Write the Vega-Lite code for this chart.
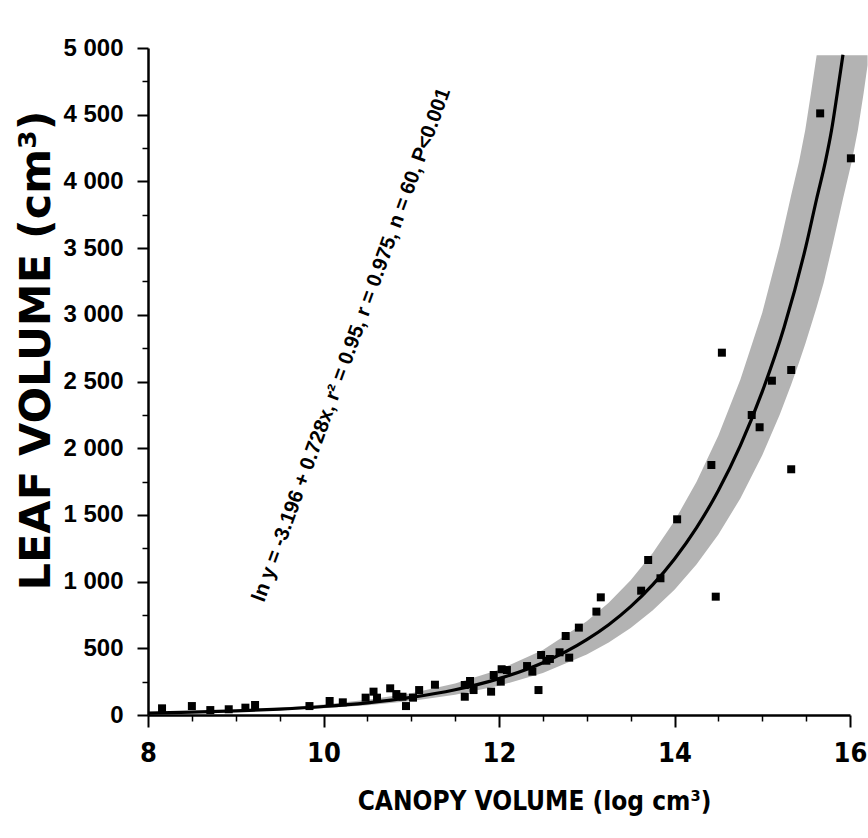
{
  "$schema": "https://vega.github.io/schema/vega-lite/v6.json",
  "width": 702,
  "height": 667,
  "autosize": {"type": "none"},
  "padding": {"left": 148, "top": 48, "right": 18, "bottom": 123},
  "background": "white",
  "config": {
    "view": {"stroke": null},
    "axis": {"grid": false, "domainColor": "#000", "tickColor": "#000", "labelColor": "#000", "titleColor": "#000"}
  },
  "datasets": {
    "points": [
      {"x": 8.16, "y": 50}, {"x": 8.50, "y": 67}, {"x": 8.71, "y": 37}, {"x": 8.92, "y": 43},
      {"x": 9.11, "y": 55}, {"x": 9.22, "y": 75}, {"x": 9.84, "y": 67}, {"x": 10.07, "y": 105},
      {"x": 10.22, "y": 95}, {"x": 10.48, "y": 130}, {"x": 10.57, "y": 175}, {"x": 10.61, "y": 130},
      {"x": 10.76, "y": 200}, {"x": 10.83, "y": 157}, {"x": 10.90, "y": 137}, {"x": 10.94, "y": 67},
      {"x": 11.02, "y": 130}, {"x": 11.09, "y": 187}, {"x": 11.27, "y": 227}, {"x": 11.61, "y": 225},
      {"x": 11.61, "y": 137}, {"x": 11.67, "y": 255}, {"x": 11.71, "y": 187},
      {"x": 11.91, "y": 175}, {"x": 11.94, "y": 300}, {"x": 12.03, "y": 343}, {"x": 12.09, "y": 337},
      {"x": 12.02, "y": 250}, {"x": 12.32, "y": 367}, {"x": 12.38, "y": 325}, {"x": 12.45, "y": 187},
      {"x": 12.48, "y": 450}, {"x": 12.54, "y": 407}, {"x": 12.58, "y": 420}, {"x": 12.69, "y": 470},
      {"x": 12.80, "y": 430}, {"x": 12.76, "y": 592}, {"x": 12.91, "y": 655}, {"x": 13.11, "y": 775},
      {"x": 13.16, "y": 882}, {"x": 13.62, "y": 932}, {"x": 13.70, "y": 1162}, {"x": 13.84, "y": 1025},
      {"x": 14.03, "y": 1467}, {"x": 14.47, "y": 887},
      {"x": 15.66, "y": 4510}, {"x": 16.01, "y": 4173}, {"x": 14.54, "y": 2716}, {"x": 15.33, "y": 2586},
      {"x": 15.11, "y": 2506}, {"x": 14.88, "y": 2249}, {"x": 14.97, "y": 2157}, {"x": 14.42, "y": 1874},
      {"x": 15.33, "y": 1842}
    ],
    "curve": [
      {"x": 8.0, "fit": 14.8}, {"x": 8.5, "fit": 21.3}, {"x": 9.0, "fit": 30.7}, {"x": 9.5, "fit": 44.2},
      {"x": 10.0, "fit": 63.6}, {"x": 10.5, "fit": 91.5}, {"x": 11.0, "fit": 131.6}, {"x": 11.5, "fit": 189.4},
      {"x": 12.0, "fit": 272.5}, {"x": 12.5, "fit": 392}, {"x": 13.0, "fit": 565}, {"x": 13.25, "fit": 677},
      {"x": 13.5, "fit": 812}, {"x": 13.75, "fit": 975}, {"x": 14.0, "fit": 1170}, {"x": 14.25, "fit": 1403},
      {"x": 14.5, "fit": 1683}, {"x": 14.75, "fit": 2019}, {"x": 15.0, "fit": 2424}, {"x": 15.25, "fit": 2908},
      {"x": 15.5, "fit": 3520}, {"x": 15.62, "fit": 3870}, {"x": 15.72, "fit": 4150}, {"x": 15.79, "fit": 4385},
      {"x": 15.855, "fit": 4661}, {"x": 15.92, "fit": 4950}
    ],
    "band": [
      {"x": 9.0, "lo": 24.7, "hi": 38.2}, {"x": 9.5, "lo": 35.5, "hi": 55.0}, {"x": 10.0, "lo": 51.1, "hi": 79.1},
      {"x": 10.5, "lo": 73.5, "hi": 113.8}, {"x": 11.0, "lo": 105.8, "hi": 163.8}, {"x": 11.5, "lo": 152.3, "hi": 235.7},
      {"x": 12.0, "lo": 219.1, "hi": 339.1}, {"x": 12.5, "lo": 315.3, "hi": 487.9}, {"x": 13.0, "lo": 453.6, "hi": 702.0},
      {"x": 13.25, "lo": 544.3, "hi": 842.2}, {"x": 13.5, "lo": 652.8, "hi": 1010.6}, {"x": 13.75, "lo": 783.3, "hi": 1212.6},
      {"x": 14.0, "lo": 939.7, "hi": 1455}, {"x": 14.25, "lo": 1127.6, "hi": 1745.7}, {"x": 14.5, "lo": 1352.7, "hi": 2094.6},
      {"x": 14.75, "lo": 1623.1, "hi": 2513}, {"x": 15.0, "lo": 1947.4, "hi": 3015}, {"x": 15.2, "lo": 2252.7, "hi": 3520},
      {"x": 15.33, "lo": 2476.6, "hi": 3898}, {"x": 15.42, "lo": 2644.5, "hi": 4150}, {"x": 15.49, "lo": 2782, "hi": 4385},
      {"x": 15.555, "lo": 2918, "hi": 4661}, {"x": 15.62, "lo": 3057, "hi": 4945}, {"x": 15.7, "lo": 3241, "hi": 4945},
      {"x": 15.8, "lo": 3520, "hi": 4945}, {"x": 15.92, "lo": 3870, "hi": 4945}, {"x": 16.02, "lo": 4150, "hi": 4945},
      {"x": 16.09, "lo": 4385, "hi": 4945}, {"x": 16.155, "lo": 4661, "hi": 4945}, {"x": 16.2, "lo": 4870, "hi": 4945}
    ],
    "note": [
      {"x": 10.32, "y": 2774, "label": "ln y = -3.196 + 0.728x, r² = 0.95, r = 0.975, n = 60, P<0.001"}
    ]
  },
  "layer": [
    {
      "data": {"name": "band"},
      "mark": {"type": "area", "color": "#b3b3b3", "opacity": 1, "clip": false},
      "encoding": {
        "x": {
          "field": "x", "type": "quantitative",
          "scale": {"domain": [8, 16], "nice": false, "zero": false},
          "axis": {
            "values": [8, 10, 12, 14, 16], "format": "d",
            "tickSize": 12, "tickWidth": 2, "domainWidth": 2.5,
            "labelFont": "Liberation Sans Narrow, DejaVu Sans Condensed, Liberation Sans, sans-serif",
            "labelFontSize": 27, "labelFontWeight": "bold", "labelPadding": 13,
            "labelFlush": false, "labelOverlap": false,
            "title": "CANOPY VOLUME (log cm³)",
            "titleFont": "Liberation Sans Narrow, DejaVu Sans Condensed, Liberation Sans, sans-serif",
            "titleFontSize": 26, "titleFontWeight": "bold",
            "titleX": 386, "titleY": 86, "titleAlign": "center", "titleBaseline": "middle"
          }
        },
        "y": {
          "field": "lo", "type": "quantitative",
          "scale": {"domain": [0, 5000], "nice": false},
          "axis": {
            "values": [0, 500, 1000, 1500, 2000, 2500, 3000, 3500, 4000, 4500, 5000],
            "labelExpr": "replace(format(datum.value, ','), ',', ' ')",
            "tickSize": 11, "tickWidth": 2, "domainWidth": 2.5,
            "labelFont": "Liberation Sans", "labelFontSize": 24, "labelFontWeight": "bold",
            "labelPadding": 14, "labelFlush": false, "labelOverlap": false,
            "title": "LEAF VOLUME (cm³)",
            "titleFont": "DejaVu Sans", "titleFontSize": 43, "titleFontWeight": "bold",
            "titleAngle": 270, "titleX": -112, "titleY": 302,
            "titleAlign": "center", "titleBaseline": "middle"
          }
        },
        "y2": {"field": "hi"}
      }
    },
    {
      "data": {"name": "curve"},
      "mark": {"type": "line", "color": "#000", "strokeWidth": 3.2, "interpolate": "monotone"},
      "encoding": {
        "x": {
          "field": "x", "type": "quantitative",
          "axis": {
            "orient": "bottom",
            "values": [8.5, 9, 9.5, 10.5, 11, 11.5, 12.5, 13, 13.5, 14.5, 15, 15.5],
            "labels": false, "domain": false, "tickSize": 6, "tickWidth": 1.5, "title": null
          }
        },
        "y": {
          "field": "fit", "type": "quantitative",
          "axis": {
            "orient": "left",
            "values": [250, 750, 1250, 1750, 2250, 2750, 3250, 3750, 4250, 4750],
            "labels": false, "domain": false, "tickSize": 6, "tickWidth": 1.5, "title": null
          }
        }
      }
    },
    {
      "data": {"name": "points"},
      "mark": {"type": "square", "color": "#000", "filled": true, "opacity": 1, "size": 64},
      "encoding": {
        "x": {"field": "x", "type": "quantitative", "axis": null},
        "y": {"field": "y", "type": "quantitative", "axis": null}
      }
    },
    {
      "data": {"name": "note"},
      "mark": {"type": "text", "angle": -70, "align": "center", "baseline": "middle", "font": "Liberation Sans", "fontWeight": "bold", "fontSize": 20.5, "color": "#000"},
      "encoding": {
        "x": {"field": "x", "type": "quantitative", "axis": null},
        "y": {"field": "y", "type": "quantitative", "axis": null},
        "text": {"field": "label"}
      }
    }
  ],
  "resolve": {"axis": {"x": "independent", "y": "independent"}}
}
